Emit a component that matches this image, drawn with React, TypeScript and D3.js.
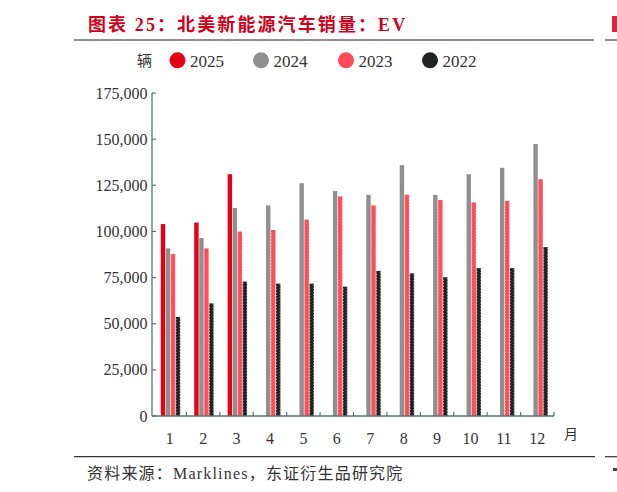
import React from "react";
import * as d3 from "d3";

const months = ["1", "2", "3", "4", "5", "6", "7", "8", "9", "10", "11", "12"];
const seriesNames = ["2025", "2024", "2023", "2022"];
const seriesColors = ["#E60012", "#8F8F8F", "#FF4B57", "#222222"];
const values2025 = [104000, 104800, 131000];
const values2024 = [90800, 96400, 112700, 114100, 126100, 121900, 119800, 135900, 119800, 131000, 134500, 147400];
const values2023 = [87700, 90800, 99900, 100800, 106400, 119000, 114100, 119900, 117000, 115700, 116500, 128300];
const values2022 = [53700, 61000, 72800, 71700, 71700, 70100, 78600, 77300, 75200, 80100, 80100, 91500];
const yTicks = [0, 25000, 50000, 75000, 100000, 125000, 150000, 175000];
const titleText = "图表 25：北美新能源汽车销量：EV";
const sourceText = "资料来源：Marklines，东证衍生品研究院";
const unitText = "辆";
const xUnitText = "月";

const W = 617;
const H = 492;
const serif = "'Liberation Serif', 'Noto Sans CJK SC', serif";
const cjk = "'Liberation Serif', 'Noto Sans CJK SC', sans-serif";

export default function App() {
  const allSeries = [values2025, values2024, values2023, values2022];
  const x0 = d3.scaleBand<string>().domain(months).range([153, 554]).padding(0);
  const x1 = d3.scaleBand<string>().domain(seriesNames).range([0, 19.4]).paddingInner(0.12);
  const y = d3.scaleLinear().domain([0, 175000]).range([416, 93]);
  const fmt = d3.format(",");
  const axisColor = "#557472";
  const groupOffset = x0.bandwidth() / 2 - 9.7 + 0.8;

  return (
    <svg width={W} height={H} style={{ position: "absolute", left: 0, top: 0, background: "#fff" }}>
      {/* title */}
      <text x={88} y={31} fill="#D0021B" fontSize={18} fontWeight="bold" fontFamily={cjk} letterSpacing={2.1}>
        {titleText}
      </text>
      <line x1={74} x2={594} y1={40} y2={40} stroke="#6b6b6b" strokeWidth={1.5} />
      <line x1={605} x2={617} y1={40} y2={40} stroke="#6b6b6b" strokeWidth={1.5} />
      <rect x={612} y={16} width={5} height={16} fill="#D0021B" opacity={0.85} />

      {/* legend */}
      <text x={137} y={66} fontSize={15} fill="#333" fontFamily={cjk}>{unitText}</text>
      {seriesNames.map((s, i) => {
        const cx = [177.5, 261, 346, 430][i];
        return (
          <g key={s}>
            <circle cx={cx} cy={60.3} r={8} fill={seriesColors[i]} />
            <text x={cx + 12.5} y={66.5} fontSize={17} fill="#333" fontFamily={serif}>{s}</text>
          </g>
        );
      })}

      {/* y axis */}
      <line x1={152} x2={152} y1={y(175000)} y2={y(0)} stroke={axisColor} strokeWidth={1.3} />
      {yTicks.map((t) => (
        <g key={t}>
          <line x1={152} x2={156} y1={y(t)} y2={y(t)} stroke={axisColor} strokeWidth={1.2} />
          <text x={147.5} y={y(t)} dy="0.35em" textAnchor="end" fontSize={16} fill="#333" fontFamily={serif}>
            {fmt(t)}
          </text>
        </g>
      ))}

      {/* bars */}
      {allSeries.map((vals, si) =>
        vals.map((v, mi) => {
          const m = months[mi];
          const bx = (x0(m) as number) + groupOffset + (x1(seriesNames[si]) as number);
          const bw = x1.bandwidth();
          const top = y(v);
          const bottom = y(0);
          const h = bottom - top;
          const color = seriesColors[si];
          return (
            <g key={`${si}-${mi}`}>
              <rect x={bx} y={top} width={bw} height={h} fill={color} />
              {si === 2 && (
                <path
                  d={`M${bx + 0.4},${bottom} V${top + 0.5} M${bx + bw - 0.4},${top + 0.5} V${bottom}`}
                  fill="none" stroke="#FF9AA1" strokeWidth={0.8} strokeDasharray="1 2"
                />
              )}
              {si === 3 && (
                <path
                  d={`M${bx + 0.3},${bottom} V${top + 1} M${bx + bw - 0.3},${top + 1} V${bottom}`}
                  fill="none" stroke="#ffffff" strokeWidth={0.6} strokeDasharray="1.2 1.8"
                />
              )}
            </g>
          );
        })
      )}

      {/* x axis */}
      <line x1={152} x2={554} y1={y(0)} y2={y(0)} stroke={axisColor} strokeWidth={1.3} />
      {months.map((m) => (
        <g key={m}>
          <line x1={(x0(m) as number) + x0.bandwidth()} x2={(x0(m) as number) + x0.bandwidth()} y1={y(0)} y2={y(0) - 4} stroke={axisColor} strokeWidth={1.2} />
          <text x={(x0(m) as number) + x0.bandwidth() / 2} y={444} textAnchor="middle" fontSize={16} fill="#333" fontFamily={serif}>
            {m}
          </text>
        </g>
      ))}
      <text x={564} y={439} fontSize={14} fill="#333" fontFamily={cjk}>{xUnitText}</text>

      {/* footer */}
      <line x1={74} x2={595} y1={456.7} y2={456.7} stroke="#333" strokeWidth={1.2} />
      <line x1={605} x2={617} y1={456.7} y2={456.7} stroke="#333" strokeWidth={1.2} />
      <text x={87} y={479} fontSize={16} fill="#333" fontFamily={cjk} letterSpacing={1.2}>{sourceText}</text>
      <rect x={613} y={468} width={4} height={3} fill="#444" />
    </svg>
  );
}
